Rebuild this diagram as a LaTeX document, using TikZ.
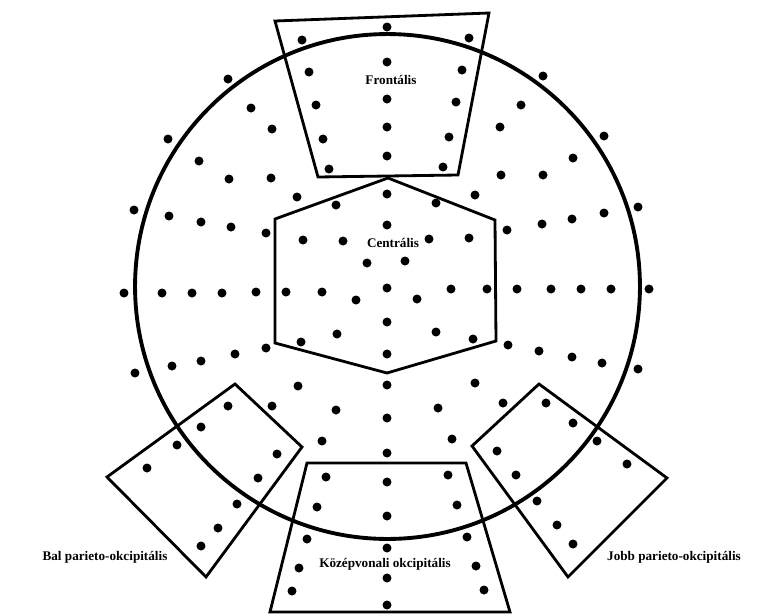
\documentclass[tikz,border=0pt]{standalone}
\usepackage{fontspec}
\setmainfont{Liberation Serif}

\tikzset{
  regio/.style={line width=1.6pt, line join=miter},
  felirat/.style={font=\bfseries\fontsize{7.5}{9}\selectfont, inner sep=0pt},
}

\begin{document}
\begin{tikzpicture}[x=0.02cm,y=-0.02cm]
  \useasboundingbox (0,0) rectangle (765,616);
  % fej
  \draw[line width=2.2pt] (387.5,286.5) circle[radius=5.05cm];
  % elektrodak - kozepvonal
  \foreach \y in {27,62,99,127,156,194,225,288,354,385,418,453,482,516,548,578,605}
    \fill (387,\y) circle[radius=0.09cm];
  % bal felso negyed
  \foreach \x/\y in {302/40, 309/72, 228/79, 316/105, 251/108, 272/129, 168/139,
      323/139, 199/161, 329/169, 229/179, 271/178, 297/197, 336/205, 134/210,
      169/216, 201/222, 231/227, 266/233, 303/240, 343/241}
    \fill (\x,\y) circle[radius=0.09cm];
  % jobb felso negyed
  \foreach \x/\y in {469/38, 462/70, 543/76, 456/102, 521/105, 500/127, 604/136,
      449/137, 573/158, 443/167, 501/175, 543/175, 475/195, 436/203, 638/207,
      604/213, 572/219, 542/224, 507/230, 429/239, 469/238}
    \fill (\x,\y) circle[radius=0.09cm];
  % kozepso sor
  \foreach \x/\y in {124/293, 162/293, 192/293, 222/293, 256/292, 286/292, 322/292,
      356/300, 417/299, 451/289, 487/289, 517/289, 551/289, 581/289, 611/289,
      649/289, 367/263, 405/261}
    \fill (\x,\y) circle[radius=0.09cm];
  % also sorok
  \foreach \x/\y in {387/322, 337/334, 301/342, 436/332, 473/339,
      266/348, 235/354, 201/361, 172/366, 135/373,
      508/345, 539/351, 572/357, 602/363, 638/369}
    \fill (\x,\y) circle[radius=0.09cm];
  % bal also negyed
  \foreach \x/\y in {298/386, 228/406, 272/406, 336/410, 201/427, 177/445, 322/441,
      277/454, 147/468, 258/478, 326/477, 237/504, 317/507, 218/528, 307/539,
      201/546, 299/568, 292/591}
    \fill (\x,\y) circle[radius=0.09cm];
  % jobb also negyed
  \foreach \x/\y in {475/383, 438/408, 503/403, 546/403, 573/423, 452/439, 597/441,
      497/451, 627/464, 516/475, 448/475, 457/505, 537/501, 557/525, 467/537,
      573/544, 476/566, 484/590}
    \fill (\x,\y) circle[radius=0.09cm];
  % regiok
  \draw[regio] (275,21) -- (489,13) -- (458,175) -- (318,177) -- cycle;
  \draw[regio] (275,219) -- (388,178) -- (495,220) -- (496,341) -- (387,373) -- (275,343) -- cycle;
  \draw[regio] (235,384) -- (302,447) -- (206,577) -- (107,477) -- cycle;
  \draw[regio] (539,384) -- (667,478) -- (568,577) -- (472,446) -- cycle;
  \draw[regio] (307,463) -- (466,463) -- (510,612) -- (270,612) -- cycle;
  % feliratok
  \node[felirat] (frontalis) at (391,80) {Frontális};
  \node[felirat] (centralis) at (393,243) {Centrális};
  \node[felirat] (balpo) at (105,557) {Bal parieto-okcipitális};
  \node[felirat] (kozepo) at (385,564) {Középvonali okcipitális};
  \node[felirat] (jobbpo) at (674,557) {Jobb parieto-okcipitális};
\end{tikzpicture}
\end{document}
